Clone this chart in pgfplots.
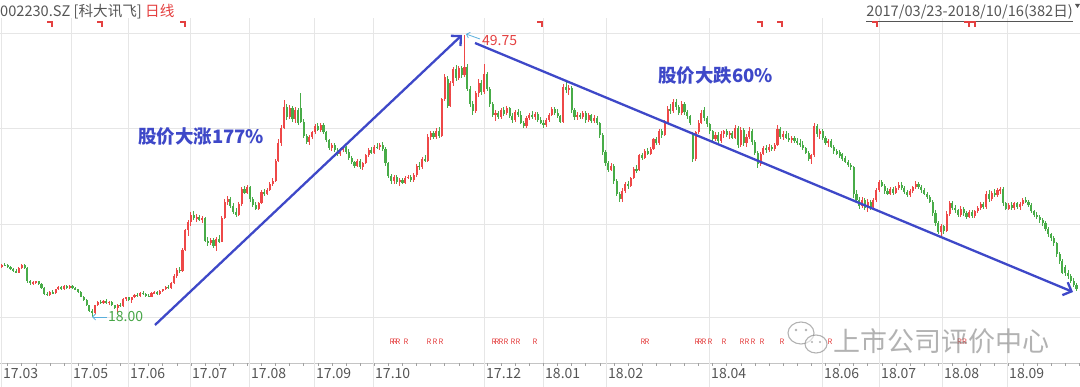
\documentclass[border=0pt]{standalone}
\usepackage{pgfplots}
\pgfplotsset{compat=1.18}
\usepackage{pgfplotstable}
\usepackage{fontspec}
\setmainfont{Noto Sans CJK SC}
\usetikzlibrary{arrows.meta}
\newcommand\fs[1]{\fontsize{#1}{#1}\selectfont}
\definecolor{upc}{RGB}{238,72,72}
\definecolor{dnc}{RGB}{72,172,72}
\definecolor{gridc}{RGB}{230,230,230}
\definecolor{labc}{RGB}{85,85,85}
\definecolor{bluec}{RGB}{62,72,200}
\definecolor{arrc}{RGB}{90,175,220}
\definecolor{redt}{RGB}{228,64,64}
\definecolor{greent}{RGB}{70,165,70}

\pgfplotstableread{
i o h l c
0 23.6 24.0 23.5 23.9
1 23.9 24.1 23.7 23.8
2 23.8 24.0 23.5 23.6
3 23.6 23.7 23.3 23.4
4 23.4 23.5 23.1 23.2
5 23.2 23.4 22.9 23.0
6 23.0 23.6 22.9 23.5
7 23.5 24.0 23.4 23.9
8 23.9 24.0 23.4 23.5
9 23.5 23.6 21.8 22.0
10 22.0 22.2 21.6 21.8
11 21.8 22.0 21.6 21.9
12 21.8 22.1 21.7 22.0
13 22.0 22.1 21.6 21.7
14 21.7 21.8 21.2 21.3
15 21.3 21.4 20.5 20.6
16 20.6 20.8 20.4 20.5
17 20.5 20.9 20.4 20.8
18 20.8 21.0 20.6 20.7
19 20.7 21.2 20.6 21.1
20 21.1 21.5 21.0 21.4
21 21.4 21.5 21.0 21.1
22 21.1 21.6 21.0 21.5
23 21.5 21.6 21.2 21.3
24 21.3 21.6 21.2 21.5
25 21.5 21.6 21.2 21.3
26 21.3 21.4 21.0 21.1
27 21.1 21.2 20.7 20.8
28 20.8 20.9 20.2 20.3
29 20.3 20.4 19.8 19.9
30 19.9 20.0 19.2 19.3
31 19.3 19.4 18.6 18.7
32 18.7 18.9 18.0 18.4
33 18.4 19.4 18.3 19.3
34 19.3 19.8 19.2 19.7
35 19.7 19.9 19.5 19.6
36 19.6 19.9 19.5 19.8
37 19.8 20.0 19.5 19.6
38 19.6 19.8 19.4 19.7
39 19.7 19.8 19.2 19.3
40 19.3 19.4 18.9 19.0
41 19.0 19.5 18.5 19.4
42 19.4 19.6 19.1 19.2
43 19.2 20.1 19.1 20.0
44 20.0 20.3 19.8 20.2
45 20.2 20.3 19.8 19.9
46 19.9 20.3 19.6 20.2
47 20.2 20.6 20.1 20.5
48 20.5 20.7 20.3 20.4
49 20.4 20.8 20.3 20.7
50 20.7 20.9 20.5 20.6
51 20.6 20.7 20.3 20.4
52 20.4 20.6 20.2 20.3
53 20.3 20.8 20.2 20.7
54 20.7 20.9 20.6 20.8
55 20.8 20.9 20.5 20.6
56 20.6 21.0 20.5 20.9
57 20.9 21.2 20.8 21.1
58 21.1 21.5 21.0 21.4
59 21.4 21.6 21.2 21.3
60 21.3 21.9 21.2 21.8
61 21.8 22.8 21.7 22.6
62 22.6 23.5 22.4 23.3
63 23.3 23.6 23.0 23.2
64 23.2 25.8 23.1 25.6
65 25.6 27.9 25.4 27.8
66 27.8 28.9 27.1 28.7
67 28.7 29.8 28.3 29.5
68 29.5 29.9 28.9 29.1
69 29.1 29.6 28.7 29.3
70 29.3 29.5 28.8 28.9
71 28.9 29.4 28.6 29.2
72 29.2 29.3 26.4 26.6
73 26.6 27.0 26.0 26.3
74 26.3 26.9 26.1 26.7
75 26.7 26.9 25.8 26.0
76 26.0 27.0 25.4 26.8
77 26.8 27.2 26.3 26.5
78 26.5 29.4 26.4 29.2
79 29.2 31.3 29.0 31.0
80 31.0 31.6 30.6 31.3
81 31.3 31.5 30.3 30.5
82 30.5 30.8 29.6 29.8
83 29.8 30.3 29.3 29.5
84 29.5 30.9 29.4 30.7
85 30.7 32.6 30.5 32.4
86 32.4 32.8 31.8 32.0
87 32.0 32.9 31.8 32.6
88 32.6 32.8 31.0 31.3
89 31.3 31.5 30.4 30.6
90 30.6 30.9 30.0 30.2
91 30.2 31.0 30.1 30.8
92 30.8 32.3 30.7 32.1
93 32.1 32.4 31.6 31.9
94 31.9 32.5 31.7 32.3
95 32.3 33.2 32.2 33.0
96 33.0 33.6 32.8 33.3
97 33.3 35.8 33.2 35.6
98 35.6 38.0 35.4 37.6
99 37.6 39.6 37.3 39.3
100 39.3 42.4 39.2 41.6
101 41.6 42.0 40.2 40.5
102 40.5 41.9 40.3 41.5
103 41.5 41.8 40.0 40.3
104 40.3 41.6 39.8 41.3
105 41.3 41.5 39.6 39.8
106 41.5 43.2 39.8 40.0
107 40.0 40.3 38.2 38.4
108 38.4 38.6 37.5 37.7
109 37.7 38.5 37.4 38.3
110 38.3 39.0 38.0 38.8
111 38.8 39.7 38.6 39.5
112 39.5 39.8 38.9 39.1
113 39.1 39.8 38.8 39.6
114 39.6 39.8 38.6 38.8
115 38.8 39.0 37.7 37.9
116 37.9 38.0 36.8 37.0
117 37.0 37.6 36.7 37.4
118 37.4 37.6 36.6 36.8
119 36.8 37.0 36.1 36.3
120 36.3 37.0 36.1 36.8
121 36.8 37.2 36.6 37.1
122 37.1 37.3 36.4 36.6
123 36.6 36.9 35.7 35.9
124 35.9 36.1 35.2 35.4
125 35.4 35.6 34.8 35.0
126 35.0 35.8 34.9 35.6
127 35.6 35.8 34.7 34.9
128 34.9 35.5 34.6 35.3
129 35.3 36.4 35.2 36.2
130 36.2 37.0 36.0 36.8
131 36.8 37.1 36.3 36.5
132 36.5 37.4 36.4 37.2
133 37.2 37.6 36.9 37.1
134 37.1 37.6 36.8 37.4
135 37.4 37.7 36.7 36.9
136 36.9 37.1 35.0 35.3
137 35.3 35.5 33.6 33.9
138 33.9 34.1 33.0 33.3
139 33.3 34.0 33.0 33.8
140 33.8 34.0 33.0 33.2
141 33.2 33.6 32.8 33.4
142 33.4 33.6 33.0 33.1
143 33.1 33.9 33.0 33.7
144 33.7 34.0 33.5 33.8
145 33.8 34.0 33.2 33.4
146 33.4 34.2 33.2 34.0
147 34.0 35.2 33.8 35.0
148 35.0 35.4 34.6 34.9
149 34.9 36.0 34.7 35.8
150 35.8 36.2 35.4 35.6
151 35.6 38.6 35.5 38.3
152 38.3 39.0 37.9 38.7
153 38.7 39.0 38.0 38.3
154 38.3 39.3 38.1 39.0
155 39.0 39.4 38.2 38.4
156 38.4 42.7 38.3 42.5
157 42.5 45.4 42.3 45.0
158 44.8 45.1 41.5 41.8
159 41.8 44.6 41.6 44.3
160 44.3 46.2 44.0 45.9
161 45.9 46.4 44.6 44.9
162 44.9 46.3 44.7 46.0
163 46.0 46.3 44.9 45.2
164 45.3 49.75 45.0 46.2
165 46.2 46.5 43.4 43.7
166 43.7 44.0 41.6 42.0
167 42.0 42.3 40.8 41.2
168 41.2 43.5 41.0 43.2
169 43.2 44.8 42.8 44.4
170 44.4 44.7 43.0 43.3
171 43.3 46.5 43.1 45.4
172 45.4 45.6 43.4 43.7
173 43.7 43.9 41.7 42.0
174 42.0 42.2 40.5 40.8
175 40.8 41.3 40.1 41.0
176 41.0 41.2 40.3 40.5
177 40.5 41.5 40.3 41.3
178 41.3 41.6 40.6 40.9
179 41.0 41.8 40.8 41.5
180 41.5 41.7 40.4 40.6
181 40.6 41.0 39.9 40.2
182 40.2 41.3 40.0 41.1
183 41.1 41.4 40.5 40.8
184 40.8 41.2 39.7 39.9
185 39.9 40.1 39.3 39.5
186 39.5 40.6 39.3 40.4
187 40.4 41.0 40.2 40.8
188 40.8 41.2 40.3 40.5
189 40.5 41.1 40.2 40.9
190 40.9 41.1 40.0 40.2
191 40.2 40.5 39.7 39.9
192 39.9 40.2 39.3 39.6
193 39.6 40.4 39.4 40.2
194 40.2 41.0 40.0 40.8
195 40.8 41.6 40.6 41.4
196 41.4 41.7 40.8 41.0
197 41.0 41.4 40.4 40.6
198 40.6 40.8 39.8 40.0
199 40.0 44.2 39.9 43.9
200 43.9 44.6 43.2 43.6
201 43.6 44.1 43.0 43.8
202 43.8 44.0 41.0 41.3
203 41.3 41.5 40.2 40.5
204 40.5 41.1 40.2 40.8
205 40.8 41.0 40.3 40.5
206 40.5 41.2 40.3 41.0
207 41.0 41.2 39.9 40.2
208 40.2 41.0 40.0 40.7
209 40.7 40.9 39.9 40.1
210 40.1 40.7 39.8 40.4
211 40.4 40.6 39.6 39.8
212 39.8 40.0 38.2 38.5
213 38.5 38.7 36.2 36.6
214 36.6 36.8 35.0 35.3
215 35.3 35.6 34.3 34.6
216 34.6 35.3 34.4 35.0
217 35.0 35.2 33.0 33.3
218 33.3 33.5 31.6 31.9
219 31.9 32.1 30.9 31.3
220 31.3 32.5 30.9 32.2
221 32.2 33.2 32.0 33.0
222 33.0 33.3 32.4 32.7
223 32.7 33.8 32.6 33.6
224 33.6 34.9 33.5 34.7
225 34.7 35.1 34.2 34.5
226 34.5 36.4 34.4 36.2
227 36.2 36.5 35.7 35.9
228 35.9 36.9 35.8 36.7
229 36.7 37.0 36.2 36.4
230 36.4 37.1 36.2 36.9
231 36.9 38.2 36.8 38.0
232 38.0 38.3 37.4 37.6
233 37.6 39.2 37.4 38.9
234 38.9 39.2 38.2 38.5
235 38.5 40.2 38.4 39.9
236 39.9 41.8 39.7 41.4
237 41.4 42.0 40.9 41.2
238 41.2 42.6 41.0 42.2
239 42.2 42.5 41.3 41.6
240 41.6 41.9 40.7 41.0
241 41.0 42.3 40.8 42.0
242 42.0 42.2 40.8 41.1
243 41.1 41.3 40.3 40.6
244 40.6 40.8 39.6 39.8
245 38.6 38.8 35.5 35.8
246 35.8 39.0 35.6 38.8
247 38.8 40.2 38.6 39.9
248 39.9 41.3 39.7 41.0
249 41.3 41.6 40.1 40.4
250 40.4 40.6 39.4 39.7
251 39.7 39.9 38.6 38.9
252 38.9 39.1 37.8 38.0
253 38.0 38.8 37.8 38.5
254 38.5 38.8 37.5 37.8
255 37.8 38.9 37.6 38.6
256 38.6 39.1 38.2 38.9
257 38.9 39.2 38.3 38.5
258 38.5 39.0 38.0 38.7
259 38.7 39.0 38.0 38.2
260 38.2 39.6 38.0 39.3
261 39.3 39.5 37.0 37.4
262 37.4 39.4 37.2 39.1
263 39.1 39.3 37.3 37.6
264 37.6 38.6 37.2 38.3
265 38.3 39.4 38.0 39.0
266 39.0 39.2 37.4 37.7
267 37.7 37.9 36.2 36.5
268 36.5 36.7 34.8 35.2
269 35.2 36.6 35.0 36.4
270 36.4 37.3 36.2 37.0
271 37.0 37.4 36.5 36.8
272 36.8 37.5 36.6 37.2
273 37.2 37.4 36.7 36.9
274 36.9 37.6 36.7 37.4
275 37.4 39.6 37.3 39.2
276 39.2 39.4 38.0 38.3
277 38.3 38.9 37.9 38.6
278 38.6 38.9 38.0 38.2
279 38.2 38.7 37.7 37.9
280 37.9 38.4 37.6 38.2
281 38.2 38.4 37.6 37.8
282 37.8 38.2 37.4 37.6
283 37.6 38.0 37.1 37.4
284 37.4 37.8 36.8 37.0
285 37.0 37.2 36.3 36.5
286 36.5 36.7 35.6 35.8
287 35.8 36.4 35.2 36.2
288 36.2 39.8 36.0 39.5
289 39.5 39.7 38.3 38.6
290 38.6 39.2 38.1 38.9
291 38.9 39.2 37.9 38.2
292 38.2 38.4 37.4 37.6
293 37.6 38.0 37.2 37.8
294 37.8 38.0 37.0 37.2
295 37.2 37.4 36.4 36.7
296 36.7 36.9 36.2 36.4
297 36.6 36.8 35.9 36.1
298 36.3 36.5 35.6 35.8
299 35.9 36.1 35.3 35.5
300 35.5 35.7 34.9 35.1
301 35.1 35.3 34.6 34.9
302 34.9 35.0 31.4 31.8
303 31.8 32.3 30.9 31.2
304 31.2 31.5 30.2 30.5
305 30.5 31.5 30.3 31.2
306 31.2 31.4 30.0 30.3
307 30.3 31.3 29.8 31.0
308 31.0 31.2 30.1 30.4
309 30.4 31.4 30.2 31.2
310 31.2 32.5 31.0 32.3
311 32.3 33.4 32.1 33.2
312 33.2 33.4 32.6 32.8
313 32.8 33.0 31.9 32.2
314 32.2 32.5 31.7 31.9
315 31.9 32.6 31.7 32.4
316 32.4 32.6 31.7 32.0
317 32.0 32.7 31.8 32.5
318 32.5 33.2 32.3 32.9
319 32.9 33.2 32.3 32.5
320 32.5 32.7 31.8 32.1
321 32.1 32.3 31.5 31.7
322 31.7 32.4 31.5 32.2
323 32.2 32.8 32.0 32.6
324 32.6 33.3 32.4 33.0
325 33.0 33.2 32.4 32.6
326 32.6 32.9 32.0 32.3
327 32.3 32.5 31.7 31.9
328 31.9 32.1 31.3 31.5
329 31.5 31.7 30.8 31.0
330 31.0 31.2 29.4 29.7
331 29.7 30.0 28.3 28.6
332 28.6 28.8 27.3 27.6
333 27.6 28.5 27.0 28.2
334 28.2 28.4 27.4 27.7
335 27.7 29.9 27.6 29.6
336 29.6 31.1 29.4 30.8
337 30.8 31.1 30.0 30.3
338 30.3 30.6 29.7 30.0
339 30.0 30.2 29.3 29.5
340 29.5 30.5 29.3 30.2
341 30.2 30.4 29.4 29.7
342 29.7 29.9 29.0 29.3
343 29.3 30.0 29.1 29.8
344 29.8 30.0 29.2 29.4
345 29.4 30.1 29.2 29.9
346 29.9 30.5 29.7 30.3
347 30.3 30.9 30.1 30.7
348 30.7 31.0 30.2 30.4
349 30.4 32.2 30.2 31.9
350 31.9 32.3 31.0 31.3
351 31.3 32.2 31.1 32.0
352 32.0 32.4 31.5 31.7
353 31.7 32.5 31.5 32.3
354 32.3 32.6 31.9 32.4
355 32.4 32.6 30.5 30.8
356 30.8 31.0 30.0 30.2
357 30.2 30.8 30.0 30.6
358 30.6 30.9 30.1 30.3
359 30.3 31.0 30.1 30.8
360 30.8 31.0 30.2 30.4
361 30.4 30.9 30.1 30.7
362 30.7 31.4 30.5 31.2
363 31.2 31.5 30.8 31.0
364 31.0 31.2 30.4 30.6
365 30.6 30.8 29.7 29.9
366 29.9 30.0 29.3 29.5
367 29.5 29.8 29.0 29.3
368 29.3 29.5 28.6 28.9
369 28.9 29.1 28.3 28.6
370 28.6 28.8 27.7 27.9
371 27.9 28.1 27.0 27.3
372 27.3 27.5 26.6 26.9
373 26.9 27.1 26.0 26.3
374 26.3 26.5 24.8 25.1
375 25.1 25.3 24.0 24.3
376 24.3 24.5 22.8 23.0
377 23.6 23.8 22.6 22.9
378 22.9 23.3 22.3 22.6
379 22.6 22.8 21.8 22.0
380 22.0 22.4 21.4 21.6
381 21.6 21.8 20.9 21.1
}\candles

\begin{document}
\begin{tikzpicture}[x=1pt,y=1pt]
% grid (drawn behind the candles)
\foreach \gy in {330,235,139,46} \draw[gridc, line width=0.8pt] (0,\gy) -- (1080,\gy);
\draw[gridc!85!black, line width=0.8pt] (0,0) -- (1080,0);
\foreach \gx in {1,71,128,190,249,314,373,484,543,606,709,822,879,942,1007}
  \draw[gridc, line width=0.8pt] (\gx,-24) -- (\gx,345);
\foreach \k in {0,...,76} \draw[gridc!70!black, line width=0.6pt] ({2+2.82*(5*\k+2)},0) -- ++(0,-3);

\begin{axis}[
  at={(0,0)}, anchor=south west,
  width=1080pt, height=363pt, scale only axis,
  xmin=-0.709, xmax=382.27, ymin=12.82, ymax=53.7,
  axis line style={draw=none},
  major tick length=0pt, minor tick length=0pt,
  ytick=\empty,
  xtick={-0.355,24.47,44.68,66.67,87.59,110.64,131.56,170.92,191.84,214.18,250.71,290.78,310.99,333.33,356.38},
  xticklabels={17.03,17.05,17.06,17.07,17.08,17.09,17.10,17.12,18.01,18.02,18.04,18.06,18.07,18.08,18.09},
  xticklabel style={anchor=north west, font=\fs{14}, text=labc, inner sep=0pt, xshift=2pt, yshift=-5pt},
  clip mode=individual,
  restrict x to domain=-5:400,
  candle/.style={only marks, mark size=0pt, mark options={draw=none, fill=none},
     error bars/.cd, y dir=both, y explicit, error mark=none},
]
% up candles: wick and body
\addplot[candle, error bar style={draw=upc, line width=1pt}]
  table[x expr={ifthenelse(\thisrow{c}>=\thisrow{o},\thisrow{i},-100)},
        y expr={(\thisrow{h}+\thisrow{l})/2},
        y error expr={(\thisrow{h}-\thisrow{l})/2}] {\candles};
\addplot[candle, error bar style={draw=upc, line width=2.1pt}]
  table[x expr={ifthenelse(\thisrow{c}>=\thisrow{o},\thisrow{i},-100)},
        y expr={(\thisrow{o}+\thisrow{c})/2},
        y error expr={max(abs(\thisrow{c}-\thisrow{o})/2,0.05)}] {\candles};
% down candles: wick and body
\addplot[candle, error bar style={draw=dnc, line width=1pt}]
  table[x expr={ifthenelse(\thisrow{c}<\thisrow{o},\thisrow{i},-100)},
        y expr={(\thisrow{h}+\thisrow{l})/2},
        y error expr={(\thisrow{h}-\thisrow{l})/2}] {\candles};
\addplot[candle, error bar style={draw=dnc, line width=2.1pt}]
  table[x expr={ifthenelse(\thisrow{c}<\thisrow{o},\thisrow{i},-100)},
        y expr={(\thisrow{o}+\thisrow{c})/2},
        y error expr={max(abs(\thisrow{c}-\thisrow{o})/2,0.05)}] {\candles};
\end{axis}

% header
\node[anchor=west, inner sep=0pt, text=labc, font=\fs{14.6}] at (0,351) {002230.SZ [科大讯飞] \textcolor{redt}{日线}};
\node[anchor=east, inner sep=0pt, text=labc, font=\fs{14.6}] (dr) at (1073,351) {2017/03/23-2018/10/16(382日)};
\draw[labc, line width=0.6pt] (dr.south west) ++(0,-1.5) -- ([yshift=-1.5pt]dr.south east);
\fill[labc] (1075,359) -- (1080,359) -- (1077.5,355) -- cycle;
% red corner marks
\foreach \mx in {50,100,183,540,760,780,875,967,973}
  \draw[redt, line width=1.7pt] (\mx-3,341) -- (\mx+2,341) -- (\mx+2,336);
% R markers
\foreach \rx in {392,395,398,406,429,435,441,494,497,501,506,513,518,535,643,647,697,700,704,710,724,742,747,753,762,782,830}
  \node[text=redt, font=\fs{7.5}, inner sep=0pt] at (\rx,21) {R};
% watermark (drawn over the last two R markers, as in the source)
\node[text=redt, font=\fs{7.5}, inner sep=0pt] at (962,21) {RR};
\begin{scope}[opacity=0.55, draw=black!55, line width=1.1pt]
  \draw (801,30) ellipse (13pt and 11pt);
  \fill[white] (816,19) ellipse (11pt and 9pt);
  \draw (816,19) ellipse (11pt and 9pt);
  \fill[black!55] (796,33) circle (1.3pt) (806,33) circle (1.3pt) (812,21) circle (1.1pt) (820,21) circle (1.1pt);
  \node[anchor=west, inner sep=0pt, text=black!55, font=\fs{27}] at (833,22) {上市公司评价中心};
\end{scope}
% value annotations
\draw[arrc, line width=0.8pt, -{Straight Barb[length=3pt,width=6pt]}] (480,324) -- (466,329);
\node[anchor=west, inner sep=0pt, text=redt, font=\fs{14}] at (482,322) {49.75};
\draw[arrc, line width=0.8pt, -{Straight Barb[length=3pt,width=6pt]}] (107,46) -- (92,46);
\node[anchor=west, inner sep=0pt, text=greent, font=\fs{14}] at (108,46) {18.00};
% trend arrows
\draw[bluec, line width=2.3pt, -{Straight Barb[length=7pt,width=14pt]}] (155,38) -- (462,328);
\draw[bluec, line width=2.3pt, -{Straight Barb[length=7pt,width=14pt]}] (475,320) -- (1073,71);
\node[anchor=west, inner sep=0pt, text=bluec, font=\fs{18.5}\bfseries] at (138,226) {股价大涨177\%};
\node[anchor=west, inner sep=0pt, text=bluec, font=\fs{18.5}\bfseries] at (658,287) {股价大跌60\%};

\pgfresetboundingbox
\path[use as bounding box] (0,-24) rectangle (1080,363);
\end{tikzpicture}
\end{document}
